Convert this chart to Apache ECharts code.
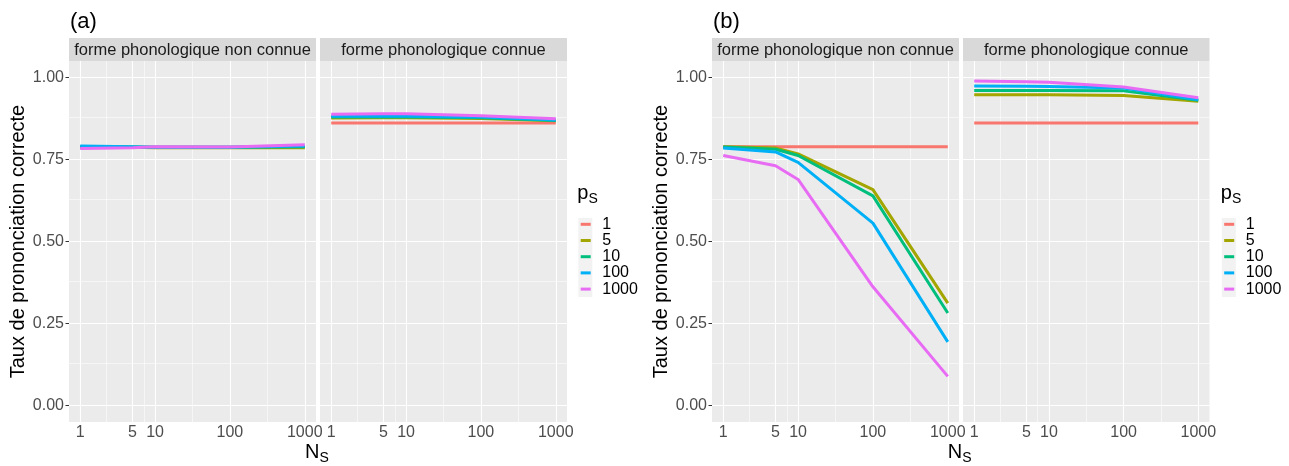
<!DOCTYPE html>
<html>
<head>
<meta charset="utf-8">
<script src="https://cdn.jsdelivr.net/npm/echarts@6/dist/echarts.min.js"></script>
<style>
html, body { margin: 0; padding: 0; background: #fff; }
#chart { width: 1289px; height: 466px; }
</style>
</head>
<body>
<div id="chart"></div>
<script>
// N_S values on the x axis, p_S levels for the colours
var nsValues = [1, 5, 10, 100, 1000];
var psLevels = ['1', '5', '10', '100', '1000'];
var xTickValues = [1, 5, 10, 100, 1000];
var yTickValues = [0, 0.25, 0.5, 0.75, 1];
var facetNames = ['forme phonologique non connue', 'forme phonologique connue'];
var panelNames = ['(a)', '(b)'];

// (a) rows = p_S 1, 5, 10, 100, 1000 ; columns = N_S 1, 5, 10, 100, 1000
var aNonConnue = [
	[0.787, 0.787, 0.787, 0.787, 0.787],
	[0.788, 0.787, 0.786, 0.786, 0.786],
	[0.789, 0.788, 0.787, 0.787, 0.789],
	[0.791, 0.789, 0.787, 0.787, 0.791],
	[0.783, 0.786, 0.789, 0.788, 0.795]
];
var aConnue = [
	[0.861, 0.861, 0.861, 0.861, 0.861],
	[0.876, 0.877, 0.877, 0.875, 0.868],
	[0.879, 0.879, 0.879, 0.877, 0.869],
	[0.882, 0.882, 0.882, 0.879, 0.870],
	[0.888, 0.889, 0.889, 0.883, 0.874]
];
// (b)
var bNonConnue = [
	[0.789, 0.789, 0.789, 0.789, 0.789],
	[0.789, 0.785, 0.767, 0.658, 0.312],
	[0.788, 0.781, 0.762, 0.639, 0.282],
	[0.785, 0.773, 0.741, 0.556, 0.194],
	[0.762, 0.731, 0.689, 0.362, 0.089]
];
var bConnue = [
	[0.861, 0.861, 0.861, 0.861, 0.861],
	[0.947, 0.947, 0.947, 0.945, 0.927],
	[0.960, 0.960, 0.960, 0.959, 0.930],
	[0.974, 0.973, 0.972, 0.968, 0.932],
	[0.989, 0.987, 0.985, 0.971, 0.938]
];

var colors = ['#F8766D', '#A3A500', '#00BF7D', '#00B0F6', '#E76BF3'];
var FONT = '"Liberation Sans", Arial, sans-serif';

// facet layout : [left, width]
var facetBoxes = [[69, 247], [320, 247], [712, 247], [963, 246.5]];
var gridTop = 61, gridHeight = 361, stripTop = 38, stripHeight = 23;
var facetData = [aNonConnue, aConnue, bNonConnue, bConnue];

var grids = [], xAxes = [], yAxes = [], series = [], graphics = [];

// minor gridlines sit between the majors
var xMinor = [], yMinor = [];
for (var i = 0; i < xTickValues.length - 1; i++) xMinor.push(Math.sqrt(xTickValues[i] * xTickValues[i + 1]));
for (var i = 0; i < yTickValues.length - 1; i++) yMinor.push((yTickValues[i] + yTickValues[i + 1]) / 2);

for (var g = 0; g < 4; g++) {
	var box = facetBoxes[g];
	var isLeft = (g % 2 == 0);
	grids.push({
		left: box[0], width: box[1], top: gridTop, height: gridHeight,
		show: true, backgroundColor: '#EBEBEB', borderWidth: 0
	});
	xAxes.push({
		type: 'log', logBase: 10, gridIndex: g,
		min: Math.pow(10, -0.15), max: Math.pow(10, 3.15),
		axisLine: {show: false},
		axisTick: {show: true, length: 3.5, customValues: xTickValues, lineStyle: {color: '#333333', width: 1}},
		axisLabel: {
			customValues: xTickValues, margin: 3, fontSize: 16, color: '#4D4D4D', fontFamily: FONT,
			formatter: function (v) { return String(Math.round(v)); }
		},
		splitLine: {show: false}
	});
	var yAxis = {
		type: 'value', gridIndex: g, min: -0.05, max: 1.05,
		show: isLeft,
		axisLine: {show: false},
		axisTick: {show: true, length: 3.5, customValues: yTickValues, lineStyle: {color: '#333333', width: 1}},
		axisLabel: {
			customValues: yTickValues, margin: 5, fontSize: 16, color: '#4D4D4D', fontFamily: FONT,
			formatter: function (v) { return v.toFixed(2); }
		},
		splitLine: {show: false}
	};
	if (isLeft) {
		yAxis.name = 'Taux de prononciation correcte';
		yAxis.nameLocation = 'middle';
		yAxis.nameGap = 40;
		yAxis.nameTextStyle = {fontSize: 20, color: '#000', fontFamily: FONT};
	}
	yAxes.push(yAxis);

	// white gridlines
	var lines = [];
	xTickValues.forEach(function (v) { lines.push({xAxis: v, lineStyle: {width: 1.1}}); });
	xMinor.forEach(function (v) { lines.push({xAxis: v, lineStyle: {width: 0.55}}); });
	yTickValues.forEach(function (v) { lines.push({yAxis: v, lineStyle: {width: 1.1}}); });
	yMinor.forEach(function (v) { lines.push({yAxis: v, lineStyle: {width: 0.55}}); });
	series.push({
		name: '_grid' + g, type: 'line', xAxisIndex: g, yAxisIndex: g, data: [], z: 1,
		markLine: {
			silent: true, symbol: ['none', 'none'], label: {show: false},
			lineStyle: {color: '#FFFFFF', type: 'solid'},
			data: lines
		}
	});

	var rows = facetData[g];
	for (var k = 0; k < psLevels.length; k++) {
		series.push({
			name: psLevels[k], type: 'line', xAxisIndex: g, yAxisIndex: g, z: 10,
			showSymbol: false, symbol: 'none', color: colors[k],
			lineStyle: {width: 3, color: colors[k]},
			data: nsValues.map(function (n, j) { return [n, rows[k][j]]; })
		});
	}

	// facet strip
	graphics.push({
		type: 'rect', shape: {x: box[0], y: stripTop, width: box[1], height: stripHeight},
		style: {fill: '#D9D9D9'}, silent: true
	});
	graphics.push({
		type: 'text', x: box[0] + box[1] / 2, y: stripTop + stripHeight / 2 + 0.5, silent: true,
		style: {
			text: facetNames[g % 2], fill: '#1A1A1A', font: '16.5px ' + FONT,
			textAlign: 'center', textVerticalAlign: 'middle', align: 'center', verticalAlign: 'middle'
		}
	});
}

// legend positions for (a) and (b)
var legendLeft = [578.3, 1221.8];
var titles = [], legends = [];
var richSub = {
	p: {fontSize: 20, lineHeight: 26, color: '#000', fontFamily: FONT, fontWeight: 'normal'},
	s: {fontSize: 14, lineHeight: 14, verticalAlign: 'bottom', color: '#000', fontFamily: FONT, fontWeight: 'normal'}
};
for (var p = 0; p < 2; p++) {
	var lx = legendLeft[p];
	graphics.push({
		type: 'rect', shape: {x: lx, y: 218, width: 14, height: 79}, style: {fill: '#F2F2F2'}, silent: true
	});
	legends.push({
		orient: 'vertical', left: lx + 2.4, top: 216.2, padding: 0, itemGap: 0,
		itemWidth: 10, itemHeight: 3, icon: 'rect',
		textStyle: {fontSize: 16, color: '#000', fontFamily: FONT, lineHeight: 16.2, padding: [0, 0, 0, 6.6]},
		data: psLevels
	});
	titles.push({
		text: '{p|p}{s|S}', left: lx - 1, top: 180, padding: 0,
		textStyle: {fontWeight: 'normal', rich: richSub}
	});
	var fl = facetBoxes[p * 2], fr = facetBoxes[p * 2 + 1];
	var center = (fl[0] + fr[0] + fr[1]) / 2;
	titles.push({
		text: '{p|N}{s|S}', left: center - 13, top: 439, padding: 0,
		textStyle: {fontWeight: 'normal', rich: richSub}
	});
	titles.push({
		text: panelNames[p], left: fl[0] + 1, top: 11, padding: 0,
		textStyle: {fontSize: 22, fontWeight: 'normal', color: '#000', fontFamily: FONT}
	});
}

var chart = echarts.init(document.getElementById('chart'));
chart.setOption({
	backgroundColor: '#FFFFFF',
	animation: false,
	title: titles,
	legend: legends,
	grid: grids,
	xAxis: xAxes,
	yAxis: yAxes,
	series: series,
	graphic: graphics
});
</script>
</body>
</html>
